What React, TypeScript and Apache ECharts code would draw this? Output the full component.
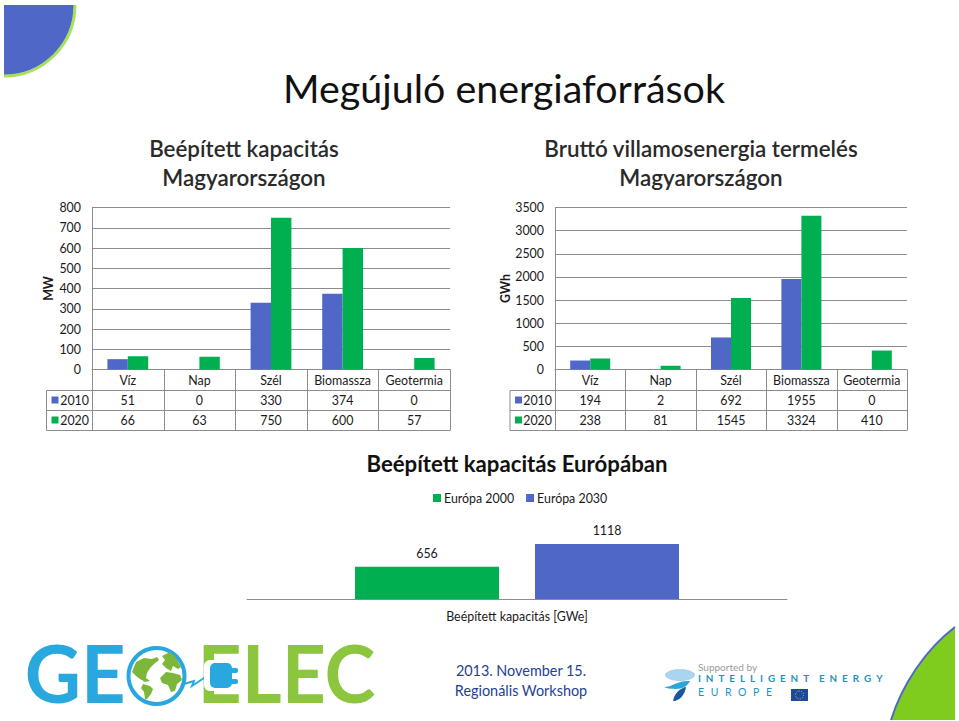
import React, { useEffect, useRef } from "react";
import * as echarts from "echarts";

const categories = ["Víz", "Nap", "Szél", "Biomassza", "Geotermia"];
const capacity2010 = [51, 0, 330, 374, 0];
const capacity2020 = [66, 63, 750, 600, 57];
const generation2010 = [194, 2, 692, 1955, 0];
const generation2020 = [238, 81, 1545, 3324, 410];
const europeCategory = ["Beépített kapacitás [GWe]"];
const europe2000 = [656];
const europe2030 = [1118];

const BLUE = "#4F68C8";
const GREEN = "#00B050";
const LINE = "#8C8C8C";
const FONT = "Lato";
const TXT = "#1a1a1a";
const SIZE = 12.4;

echarts.graphic.registerShape("cornerBRFill", echarts.graphic.extendPath("M955 627 C925 650 902 685 891 720 L955 720 Z", {}));
echarts.graphic.registerShape("cornerBREdge", echarts.graphic.extendPath("M955 627 C925 650 902 685 891 720", {}));
echarts.graphic.registerShape("earthNA", echarts.graphic.extendPath("M132 672 L136 662 L144 658 L152 659 L157 657 L159 660 L154 664 L150 668 L147 673 L146 678 L150 681 L145 682 L140 679 L136 676 Z", {}));
echarts.graphic.registerShape("earthSA", echarts.graphic.extendPath("M143 684 L150 686 L153 689 L151 694 L147 699 L145 699 L144 692 L141 688 Z", {}));
echarts.graphic.registerShape("earthEU", echarts.graphic.extendPath("M162 656 L170 652 L176 658 L181 667 L178 669 L173 666 L171 671 L166 668 L162 664 L165 660 Z", {}));
echarts.graphic.registerShape("earthAF", echarts.graphic.extendPath("M160 678 L166 672 L173 673 L180 675 L182 680 L177 684 L175 691 L171 692 L168 685 L162 683 Z", {}));
echarts.graphic.registerShape("bladeTop", echarts.graphic.extendPath("M664 687 C672 687 678 680 690 681 C688 686 682 689 676 689 C670 689 666 688 664 687 Z", {}));
echarts.graphic.registerShape("bladeLow", echarts.graphic.extendPath("M673 701 C674 694 680 688 686 687 C685 694 680 701 673 701 Z", {}));

function tableGraphic(left: number, right: number, rowLeft: number, v1: number[], v2: number[]) {
  const ys = [369.5, 390.5, 410.5, 430.5];
  const band = (right - left) / categories.length;
  const out: any[] = [];
  const line = (x1: number, y1: number, x2: number, y2: number) =>
    out.push({ type: "line", shape: { x1, y1, x2, y2 }, style: { stroke: LINE, lineWidth: 1 }, silent: true });
  line(left, ys[0], right, ys[0]);
  line(rowLeft, ys[1], right, ys[1]);
  line(rowLeft, ys[2], right, ys[2]);
  line(rowLeft, ys[3], right, ys[3]);
  line(rowLeft, ys[1], rowLeft, ys[3]);
  for (let i = 0; i <= categories.length; i++) {
    const x = Math.round(left + band * i) + 0.5;
    line(x, ys[0], x, ys[3]);
  }
  [
    { label: "2010", vals: v1, color: BLUE, y: 400.5 },
    { label: "2020", vals: v2, color: GREEN, y: 420.5 },
  ].forEach((r) => {
    out.push({ type: "rect", shape: { x: rowLeft + 5, y: r.y - 4, width: 7, height: 7 }, style: { fill: r.color }, silent: true });
    out.push({ type: "text", x: left - 3, y: r.y, style: { text: r.label, font: `${SIZE}px ${FONT}`, fill: TXT, textAlign: "right", textVerticalAlign: "middle" }, silent: true });
    r.vals.forEach((v, i) =>
      out.push({ type: "text", x: left + band * (i + 0.5), y: r.y, style: { text: String(v), font: `${SIZE}px ${FONT}`, fill: TXT, textAlign: "center", textVerticalAlign: "middle" }, silent: true })
    );
  });
  return out;
}

function txt(text: string, x: number, y: number, size: number, fill: string, weight = "normal", align = "center", family = FONT) {
  return { type: "text", x, y, silent: true, style: { text, font: `${weight} ${size}px "${family}"`, fill, textAlign: align, textVerticalAlign: "middle" } };
}

const SP = "\u2002";
const SP2 = "\u2002\u2009";
const decorations: any[] = [
  { type: "sector", shape: { cx: 4, cy: 5, r: 70, r0: 0, startAngle: 0, endAngle: Math.PI / 2, clockwise: true }, style: { fill: BLUE }, silent: true },
  { type: "arc", shape: { cx: 4, cy: 5, r: 71, startAngle: 0, endAngle: Math.PI / 2, clockwise: true }, style: { stroke: "#A6E05C", lineWidth: 3, fill: "none" }, silent: true },
  { type: "cornerBRFill", style: { fill: "#7FCC1E" }, silent: true },
  { type: "cornerBREdge", style: { fill: "none", stroke: BLUE, lineWidth: 2 }, silent: true },
  txt("Megújuló energiaforrások", 504, 87, 39.4, "#111"),
  txt("Beépített kapacitás", 244, 148.5, 22.4, "#2a2a2a", "600"),
  txt("Magyarországon", 244, 177.5, 22.4, "#2a2a2a", "600"),
  txt("Bruttó villamosenergia termelés", 701, 148.5, 22.4, "#2a2a2a", "600"),
  txt("Magyarországon", 701, 177.5, 22.4, "#2a2a2a", "600"),
  txt("Beépített kapacitás Európában", 517, 463, 22.2, "#111", "bold"),
  // GEO-ELEC logo
  { ...txt("GE", 24, 672, 80, "#29A8E0", "bold", "left"), scaleX: 0.97, originX: 24, originY: 672 },
  { ...txt("ELEC", 190, 672, 80, "#8CC63F", "bold", "left"), scaleX: 0.96, originX: 190, originY: 672 },
  { type: "circle", shape: { cx: 156.5, cy: 676, r: 28 }, style: { fill: "#fff", stroke: "#29A8E0", lineWidth: 4 }, silent: true },
  { type: "earthNA", style: { fill: "#7DB73A" }, silent: true },
  { type: "earthSA", style: { fill: "#7DB73A" }, silent: true },
  { type: "earthEU", style: { fill: "#7DB73A" }, silent: true },
  { type: "earthAF", style: { fill: "#7DB73A" }, silent: true },
  { type: "polyline", shape: { points: [[184, 684], [194, 681], [192, 686], [210, 674]] }, style: { stroke: "#29A8E0", lineWidth: 2, fill: "none" }, silent: true },
  { type: "rect", shape: { x: 204, y: 660, width: 38, height: 31, r: 6 }, style: { fill: "#fff" }, silent: true },
  { type: "rect", shape: { x: 210, y: 663, width: 22, height: 25, r: 5 }, style: { fill: "#29A8E0" }, silent: true },
  { type: "rect", shape: { x: 228, y: 668, width: 10, height: 5, r: 2 }, style: { fill: "#29A8E0" }, silent: true },
  { type: "rect", shape: { x: 228, y: 679, width: 10, height: 5, r: 2 }, style: { fill: "#29A8E0" }, silent: true },
  // footer
  txt("2013. November 15.", 521, 670, 14.4, "#1F3F94"),
  txt("Regionális Workshop", 521, 690, 14.4, "#1F3F94"),
  // Intelligent Energy Europe logo
  { type: "ellipse", shape: { cx: 680, cy: 675, rx: 15, ry: 6 }, style: { fill: "#A9D5EE" }, silent: true },
  { type: "bladeTop", style: { fill: "#2AA6DA" }, silent: true },
  { type: "bladeLow", style: { fill: "#14599E" }, silent: true },
  txt("Supported by", 698, 667, 10, "#9A9A9A", "normal", "left"),
  txt(["I", "N", "T", "E", "L", "L", "I", "G", "E", "N", "T"].join(SP) + SP + SP + ["E", "N", "E", "R", "G", "Y"].join(SP), 698, 678, 9.9, "#1F93BF", "bold", "left"),
  txt(["E", "U", "R", "O", "P", "E"].join(SP2), 698, 692, 10.5, "#1F93BF", "normal", "left"),
  { type: "rect", shape: { x: 791, y: 689, width: 17, height: 12 }, style: { fill: "#1E4A9C" }, silent: true },
  { type: "circle", shape: { cx: 799.5, cy: 695, r: 4 }, style: { fill: "none", stroke: "#D8C84A", lineWidth: 1, lineDash: [1, 1.5] }, silent: true },
  ...tableGraphic(92, 450, 46.5, capacity2010, capacity2020),
  ...tableGraphic(555, 907, 510, generation2010, generation2020),
];

const axisText = { fontFamily: FONT, fontSize: SIZE, color: TXT };

function yAxis(grid: number, name: string, max: number, interval: number, gap: number) {
  return {
    type: "value", gridIndex: grid, min: 0, max, interval, name, nameLocation: "middle", nameGap: gap, nameRotate: 90,
    nameTextStyle: { fontFamily: FONT, fontSize: SIZE, fontWeight: "bold", color: TXT },
    axisLine: { show: true, lineStyle: { color: LINE } }, axisTick: { show: false },
    axisLabel: { ...axisText, margin: 11, formatter: (v: number) => String(v) },
    splitLine: { show: true, lineStyle: { color: LINE, width: 1 } },
  };
}
function xAxis(grid: number) {
  return {
    type: "category", gridIndex: grid, data: categories,
    axisLine: { show: true, lineStyle: { color: LINE } }, axisTick: { show: false },
    axisLabel: { ...axisText, margin: 5, interval: 0 },
  };
}
function bar(name: string, data: number[], color: string, idx: number, w: number) {
  return { type: "bar", name, data, xAxisIndex: idx, yAxisIndex: idx, barWidth: w, barGap: 0, itemStyle: { color }, silent: true };
}

const option: any = {
  animation: false,
  backgroundColor: "#fff",
  textStyle: { fontFamily: FONT },
  graphic: { elements: decorations },
  legend: {
    data: ["Európa 2000", "Európa 2030"], left: 428, top: 487, itemWidth: 8, itemHeight: 8, itemGap: 12,
    icon: "rect", textStyle: { ...axisText, padding: [0, 0, 0, -2] }, selectedMode: false,
  },
  grid: [
    { left: 92, top: 207.5, width: 358, height: 162 },
    { left: 555, top: 207.5, width: 352, height: 162 },
    { left: 247, top: 530, width: 540, height: 69 },
  ],
  xAxis: [
    xAxis(0), xAxis(1),
    {
      type: "category", gridIndex: 2, data: europeCategory,
      axisLine: { show: true, lineStyle: { color: LINE } }, axisTick: { show: false },
      axisLabel: { ...axisText, margin: 11 },
    },
  ],
  yAxis: [
    yAxis(0, "MW", 800, 100, 38),
    yAxis(1, "GWh", 3500, 500, 41),
    { type: "value", gridIndex: 2, min: 0, max: 1400, show: false, splitLine: { show: false } },
  ],
  series: [
    bar("2010", capacity2010, BLUE, 0, 20.4),
    bar("2020", capacity2020, GREEN, 0, 20.4),
    bar("2010", generation2010, BLUE, 1, 20),
    bar("2020", generation2020, GREEN, 1, 20),
    {
      type: "bar", name: "Európa 2000", data: europe2000, xAxisIndex: 2, yAxisIndex: 2, barWidth: 144, barGap: "25%",
      itemStyle: { color: GREEN }, label: { show: true, position: "top", distance: 7, ...axisText },
    },
    {
      type: "bar", name: "Európa 2030", data: europe2030, xAxisIndex: 2, yAxisIndex: 2, barWidth: 144, barGap: "25%",
      itemStyle: { color: BLUE }, label: { show: true, position: "top", distance: 7, ...axisText },
    },
  ],
};

export default function App() {
  const ref = useRef<HTMLDivElement>(null);
  useEffect(() => {
    const chart = echarts.init(ref.current!, undefined, { renderer: "svg" });
    chart.setOption(option);
    return () => chart.dispose();
  }, []);
  return <div ref={ref} style={{ position: "absolute", left: 0, top: 0, width: 959, height: 721 }} />;
}
